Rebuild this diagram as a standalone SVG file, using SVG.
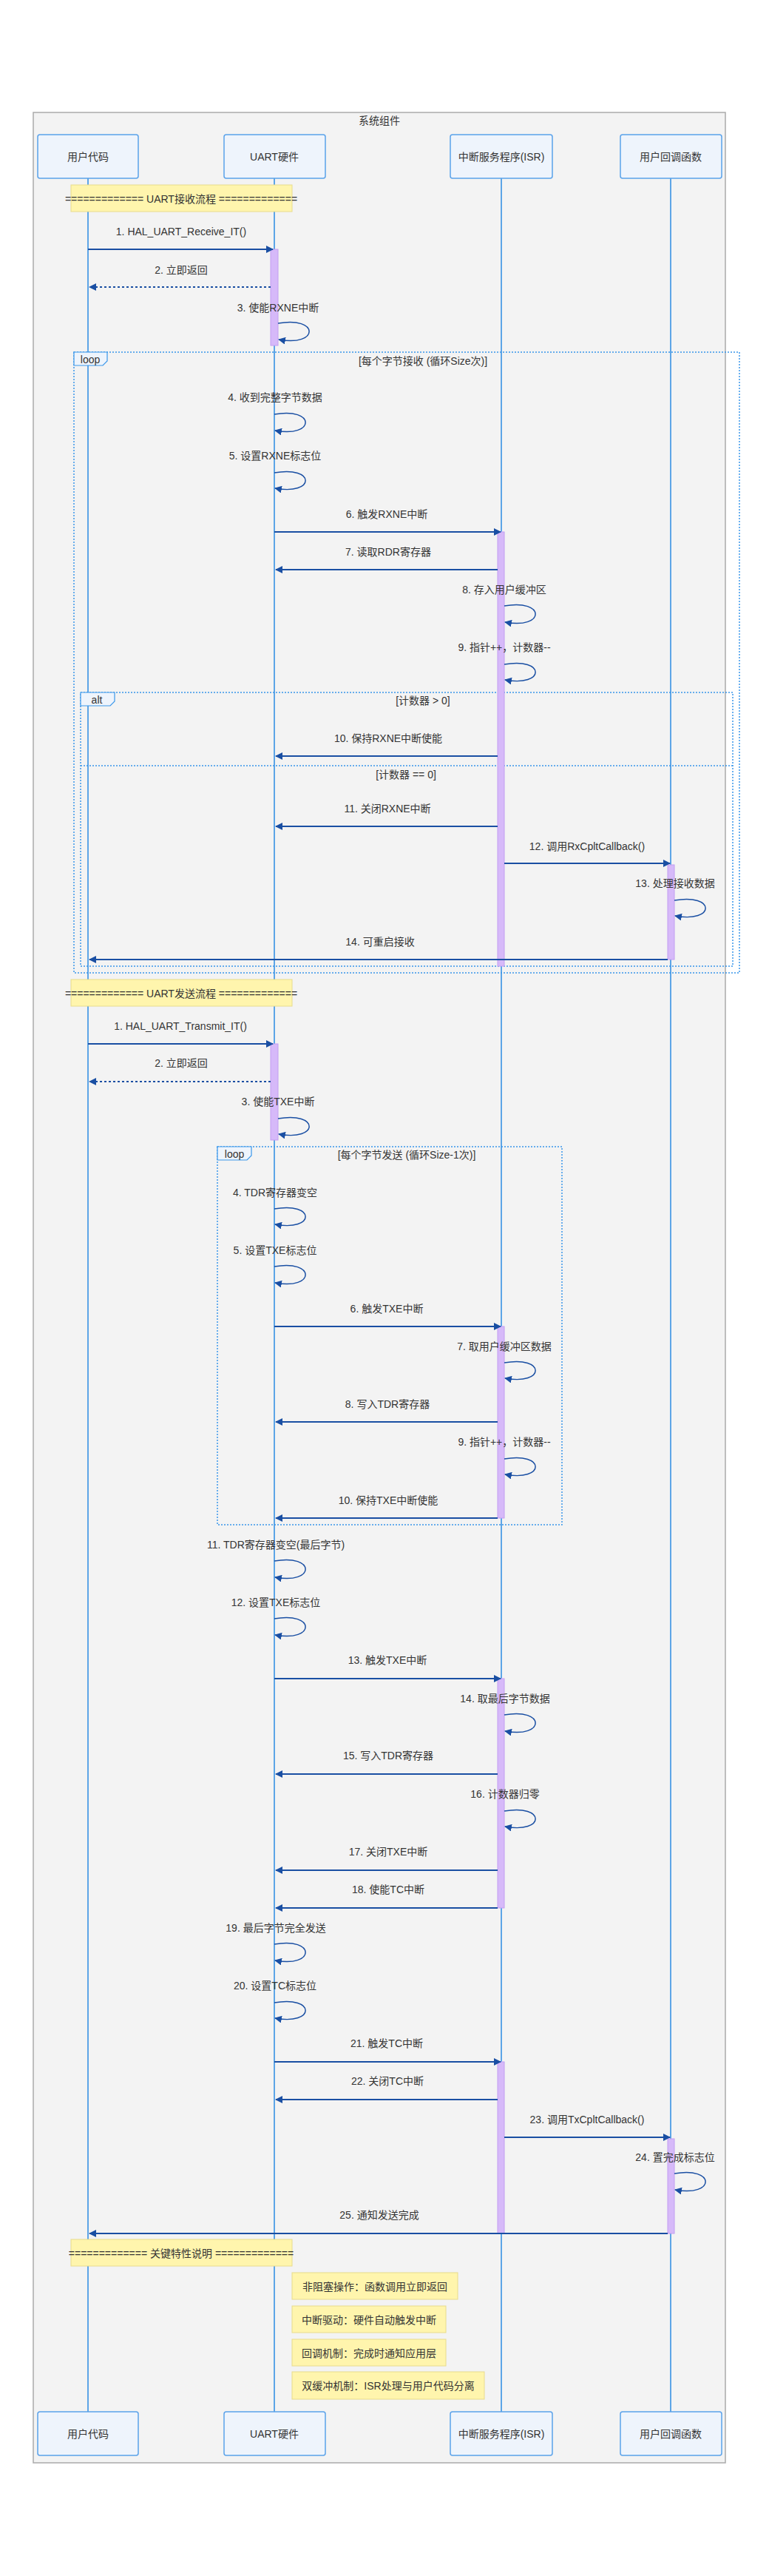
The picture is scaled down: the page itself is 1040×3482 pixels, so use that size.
<svg xmlns="http://www.w3.org/2000/svg" width="1040" height="3482" viewBox="0 0 1040 3482">
<defs>
<marker id="ah" markerUnits="userSpaceOnUse" markerWidth="10" markerHeight="10" refX="9" refY="5" orient="auto">
<path d="M0,0 L10,5 L0,10 z" fill="#1a4fa3"/>
</marker>
<style>
text{font-family:"Liberation Sans","Noto Sans CJK SC",sans-serif;font-size:14px;fill:#333;text-anchor:middle;dominant-baseline:central}
.actor{fill:#eef4fc;stroke:#5aa2ea;stroke-width:1.5}
.life{stroke:#2b8be3;stroke-width:1.5}
.msg{stroke:#1a4fa3;stroke-width:2;fill:none;marker-end:url(#ah)}
.ret{stroke:#1a4fa3;stroke-width:2;fill:none;stroke-dasharray:3,3;marker-end:url(#ah)}
.self{stroke:#1a4fa3;stroke-width:1.5;fill:none;marker-end:url(#ah)}
.act{fill:#d6b9f9;stroke:#c29ef1;stroke-width:1}
.frame{fill:none;stroke:#3a97ea;stroke-width:1.5;stroke-dasharray:2,2}
.flabel{fill:#eef4fc;stroke:#3a97ea;stroke-width:1.2}
.note{fill:#fff5ad;stroke:#e8dc8c;stroke-width:1}
</style>
</defs>
<rect x="0" y="0" width="1040" height="3482" fill="#ffffff"/>
<g id="system">
<rect x="45" y="152" width="936" height="3177" fill="#f3f3f3" stroke="#aaaaaa" stroke-width="1.5"/>
<text x="513" y="163">系统组件</text>
</g>
<g id="lifelines">
<line class="life" x1="119" y1="241" x2="119" y2="3260"/>
<line class="life" x1="371" y1="241" x2="371" y2="3260"/>
<line class="life" x1="678" y1="241" x2="678" y2="3260"/>
<line class="life" x1="907" y1="241" x2="907" y2="3260"/>
</g>
<g id="frames">
<g id="loop1">
<rect class="frame" x="100" y="476" width="900" height="839"/>
<polygon class="flabel" points="100,476 145,476 145,488 139,494 100,494"/>
<text x="122" y="486">loop</text>
<text x="572" y="488">[每个字节接收 (循环Size次)]</text>
</g>
<g id="alt1">
<rect class="frame" x="109" y="936" width="882" height="370"/>
<polygon class="flabel" points="109,936 155,936 155,948 149,954 109,954"/>
<text x="131" y="946">alt</text>
<text x="572" y="947">[计数器 &gt; 0]</text>
<line class="frame" x1="109" y1="1035" x2="991" y2="1035"/>
<text x="549" y="1047">[计数器 == 0]</text>
</g>
<g id="loop2">
<rect class="frame" x="294" y="1550" width="466" height="511"/>
<polygon class="flabel" points="294,1550 340,1550 340,1562 334,1568 294,1568"/>
<text x="317" y="1560">loop</text>
<text x="550" y="1561">[每个字节发送 (循环Size-1次)]</text>
</g>
</g>
<g id="activations">
<rect class="act" x="366" y="337" width="10" height="130"/>
<rect class="act" x="673" y="719" width="9" height="587"/>
<rect class="act" x="903" y="1169" width="9" height="128"/>
<rect class="act" x="366" y="1411" width="10" height="130"/>
<rect class="act" x="673" y="1793" width="9" height="259"/>
<rect class="act" x="673" y="2269" width="9" height="310"/>
<rect class="act" x="673" y="2787" width="9" height="232"/>
<rect class="act" x="903" y="2891" width="9" height="128"/>
</g>
<g id="connectors">
<path class="msg" d="M119,337 H369"/>
<text x="245" y="313">1. HAL_UART_Receive_IT()</text>
<path class="ret" d="M366,388 H121"/>
<text x="245" y="365">2. 立即返回</text>
<path class="self" d="M376,437 C432,427 432,469 377,459"/>
<text x="376" y="416">3. 使能RXNE中断</text>
<path class="self" d="M371,560 C427,550 427,592 372,582"/>
<text x="372" y="537">4. 收到完整字节数据</text>
<path class="self" d="M371,639 C427,629 427,670 372,660"/>
<text x="372" y="616">5. 设置RXNE标志位</text>
<path class="msg" d="M371,719 H677"/>
<text x="523" y="695">6. 触发RXNE中断</text>
<path class="msg" d="M673,770 H373"/>
<text x="525" y="746">7. 读取RDR寄存器</text>
<path class="self" d="M682,819 C738,809 738,851 683,841"/>
<text x="682" y="797">8. 存入用户缓冲区</text>
<path class="self" d="M682,898 C738,888 738,929 683,919"/>
<text x="682" y="875">9. 指针++，计数器--</text>
<path class="msg" d="M673,1022 H373"/>
<text x="525" y="998">10. 保持RXNE中断使能</text>
<path class="msg" d="M673,1117 H373"/>
<text x="524" y="1093">11. 关闭RXNE中断</text>
<path class="msg" d="M682,1167 H906"/>
<text x="794" y="1144">12. 调用RxCpltCallback()</text>
<path class="self" d="M912,1217 C968,1207 968,1248 913,1238"/>
<text x="913" y="1194">13. 处理接收数据</text>
<path class="msg" d="M903,1297 H121"/>
<text x="514" y="1273">14. 可重启接收</text>
<path class="msg" d="M119,1411 H369"/>
<text x="244" y="1387">1. HAL_UART_Transmit_IT()</text>
<path class="ret" d="M366,1462 H121"/>
<text x="245" y="1437">2. 立即返回</text>
<path class="self" d="M376,1512 C432,1502 432,1543 377,1533"/>
<text x="376" y="1489">3. 使能TXE中断</text>
<path class="self" d="M371,1634 C427,1624 427,1665 372,1655"/>
<text x="372" y="1612">4. TDR寄存器变空</text>
<path class="self" d="M371,1712 C427,1702 427,1744 372,1734"/>
<text x="372" y="1690">5. 设置TXE标志位</text>
<path class="msg" d="M371,1793 H677"/>
<text x="523" y="1769">6. 触发TXE中断</text>
<path class="self" d="M682,1842 C738,1832 738,1873 683,1863"/>
<text x="682" y="1820">7. 取用户缓冲区数据</text>
<path class="msg" d="M673,1922 H373"/>
<text x="524" y="1898">8. 写入TDR寄存器</text>
<path class="self" d="M682,1972 C738,1962 738,2003 683,1993"/>
<text x="682" y="1949">9. 指针++，计数器--</text>
<path class="msg" d="M673,2052 H373"/>
<text x="525" y="2028">10. 保持TXE中断使能</text>
<path class="self" d="M371,2110 C427,2100 427,2142 372,2132"/>
<text x="373" y="2088">11. TDR寄存器变空(最后字节)</text>
<path class="self" d="M371,2188 C427,2178 427,2220 372,2210"/>
<text x="373" y="2166">12. 设置TXE标志位</text>
<path class="msg" d="M371,2269 H677"/>
<text x="524" y="2244">13. 触发TXE中断</text>
<path class="self" d="M682,2318 C738,2308 738,2350 683,2340"/>
<text x="683" y="2296">14. 取最后字节数据</text>
<path class="msg" d="M673,2398 H373"/>
<text x="525" y="2373">15. 写入TDR寄存器</text>
<path class="self" d="M682,2448 C738,2438 738,2479 683,2469"/>
<text x="683" y="2425">16. 计数器归零</text>
<path class="msg" d="M673,2528 H373"/>
<text x="525" y="2503">17. 关闭TXE中断</text>
<path class="msg" d="M673,2579 H373"/>
<text x="525" y="2554">18. 使能TC中断</text>
<path class="self" d="M371,2628 C427,2618 427,2660 372,2650"/>
<text x="373" y="2606">19. 最后字节完全发送</text>
<path class="self" d="M371,2707 C427,2697 427,2738 372,2728"/>
<text x="372" y="2684">20. 设置TC标志位</text>
<path class="msg" d="M371,2787 H677"/>
<text x="523" y="2762">21. 触发TC中断</text>
<path class="msg" d="M673,2838 H373"/>
<text x="524" y="2813">22. 关闭TC中断</text>
<path class="msg" d="M682,2889 H906"/>
<text x="794" y="2865">23. 调用TxCpltCallback()</text>
<path class="self" d="M912,2938 C968,2928 968,2970 913,2960"/>
<text x="913" y="2916">24. 置完成标志位</text>
<path class="msg" d="M903,3019 H121"/>
<text x="513" y="2994">25. 通知发送完成</text>
</g>
<g id="notes">
<g id="note-rx"><rect class="note" x="96" y="250" width="299" height="36"/><text x="245" y="269">============= UART接收流程 =============</text></g>
<g id="note-tx"><rect class="note" x="96" y="1324" width="299" height="36"/><text x="245" y="1343">============= UART发送流程 =============</text></g>
<g id="note-key"><rect class="note" x="96" y="3027" width="299" height="36"/><text x="245" y="3046">============= 关键特性说明 =============</text></g>
<g id="note-a"><rect class="note" x="395" y="3072" width="224" height="36"/><text x="507" y="3091">非阻塞操作：函数调用立即返回</text></g>
<g id="note-b"><rect class="note" x="395" y="3117" width="208" height="36"/><text x="499" y="3136">中断驱动：硬件自动触发中断</text></g>
<g id="note-c"><rect class="note" x="395" y="3162" width="208" height="36"/><text x="499" y="3181">回调机制：完成时通知应用层</text></g>
<g id="note-d"><rect class="note" x="395" y="3206" width="260" height="37"/><text x="525" y="3225">双缓冲机制：ISR处理与用户代码分离</text></g>
</g>
<g id="actor-user-top"><rect class="actor" x="51" y="182" width="136" height="59" rx="3"/><text x="119" y="212">用户代码</text></g>
<g id="actor-uart-top"><rect class="actor" x="303" y="182" width="137" height="59" rx="3"/><text x="371" y="212">UART硬件</text></g>
<g id="actor-isr-top"><rect class="actor" x="609" y="182" width="138" height="59" rx="3"/><text x="678" y="212">中断服务程序(ISR)</text></g>
<g id="actor-cb-top"><rect class="actor" x="839" y="182" width="137" height="59" rx="3"/><text x="907" y="212">用户回调函数</text></g>
<g id="actor-user-bottom"><rect class="actor" x="51" y="3260" width="136" height="59" rx="3"/><text x="119" y="3290">用户代码</text></g>
<g id="actor-uart-bottom"><rect class="actor" x="303" y="3260" width="137" height="59" rx="3"/><text x="371" y="3290">UART硬件</text></g>
<g id="actor-isr-bottom"><rect class="actor" x="609" y="3260" width="138" height="59" rx="3"/><text x="678" y="3290">中断服务程序(ISR)</text></g>
<g id="actor-cb-bottom"><rect class="actor" x="839" y="3260" width="137" height="59" rx="3"/><text x="907" y="3290">用户回调函数</text></g>
</svg>
